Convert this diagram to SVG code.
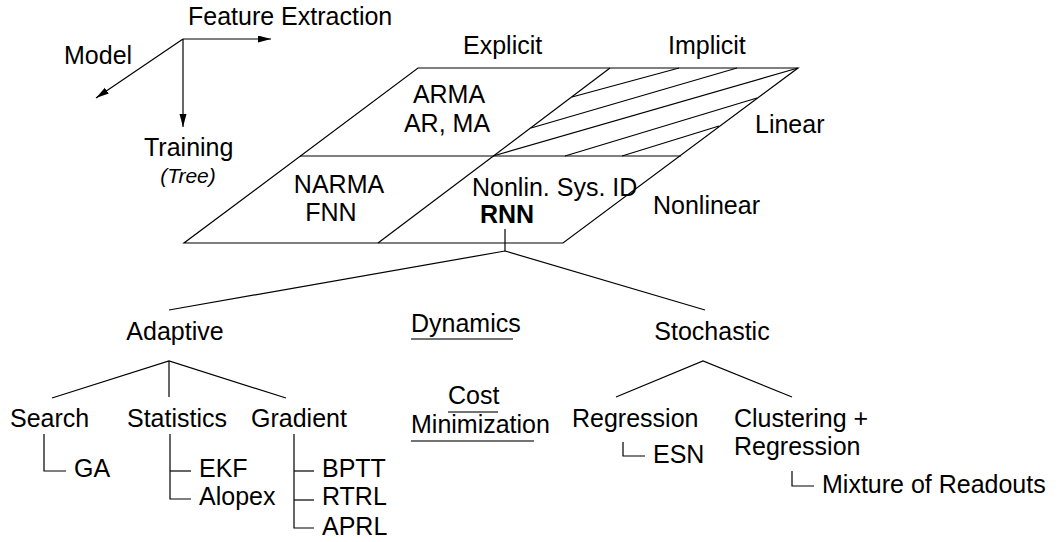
<svg xmlns="http://www.w3.org/2000/svg" width="1058" height="542" viewBox="0 0 1058 542">
  <style>
    text { font-family: "Liberation Sans", Arial, Helvetica, sans-serif; font-size: 25px; fill: #000; }
    .it { font-style: italic; font-size: 21px; }
    .b { font-weight: bold; }
    .ln { fill: none; stroke: #000; stroke-width: 1.2; }
    .ul { fill: none; stroke: #444; stroke-width: 1.3; }
  </style>
  <defs>
    <marker id="ah" markerUnits="userSpaceOnUse" markerWidth="14" markerHeight="8" refX="13" refY="3.5" orient="auto">
      <path d="M0,0 L13,3.5 L0,7 z" fill="#000"/>
    </marker>
  </defs>
  <rect width="1058" height="542" fill="#fff"/>

  <!-- axes -->
  <g id="axes">
    <line class="ln" x1="183" y1="39" x2="271" y2="39" marker-end="url(#ah)"/>
    <line class="ln" x1="183" y1="39" x2="183" y2="127" marker-end="url(#ah)"/>
    <line class="ln" x1="183" y1="39" x2="96" y2="98" marker-end="url(#ah)"/>
    <text x="188" y="25">Feature Extraction</text>
    <text x="64" y="64">Model</text>
    <text x="144" y="156">Training</text>
    <text class="it" x="188" y="183" text-anchor="middle">(Tree)</text>
  </g>

  <!-- model plane -->
  <g id="plane">
    <polygon class="ln" points="418,68 798,68 563,243 184,243"/>
    <line class="ln" x1="300" y1="156" x2="681" y2="156"/>
    <line class="ln" x1="610" y1="68" x2="378" y2="243"/>
    <!-- hatching of the implicit-linear quadrant -->
    <line class="ln" x1="572" y1="97" x2="679" y2="68"/>
    <line class="ln" x1="531" y1="128" x2="737" y2="68"/>
    <line class="ln" x1="493" y1="156" x2="798" y2="68"/>
    <line class="ln" x1="565" y1="156" x2="757" y2="98"/>
    <line class="ln" x1="622" y1="156" x2="719" y2="126"/>
    <text x="463" y="54">Explicit</text>
    <text x="668" y="54">Implicit</text>
    <text x="755" y="133">Linear</text>
    <text x="653" y="214">Nonlinear</text>
  </g>

  <g id="arma">
    <text x="449" y="103" text-anchor="middle">ARMA</text>
    <text x="447" y="132" text-anchor="middle">AR, MA</text>
  </g>
  <g id="narma">
    <text x="339" y="193" text-anchor="middle">NARMA</text>
    <text x="331" y="221" text-anchor="middle">FNN</text>
  </g>
  <g id="rnn">
    <text x="472" y="196">Nonlin. Sys. ID</text>
    <text class="b" x="480" y="223">RNN</text>
  </g>

  <g id="adaptive"><text x="175" y="340" text-anchor="middle">Adaptive</text></g>
  <g id="stochastic"><text x="712" y="340" text-anchor="middle">Stochastic</text></g>
  <g id="dynamics"><text x="411" y="332">Dynamics</text></g>
  <g id="cost">
    <text x="448" y="404">Cost</text>
    <text x="411" y="433">Minimization</text>
  </g>

  <g id="search"><text x="10" y="427">Search</text></g>
  <g id="statistics"><text x="127" y="427">Statistics</text></g>
  <g id="gradient"><text x="251" y="427">Gradient</text></g>
  <g id="ga"><text x="74" y="477">GA</text></g>
  <g id="ekf"><text x="199" y="477">EKF</text></g>
  <g id="alopex"><text x="199" y="505">Alopex</text></g>
  <g id="bptt"><text x="322" y="477">BPTT</text></g>
  <g id="rtrl"><text x="322" y="505">RTRL</text></g>
  <g id="aprl"><text x="322" y="535">APRL</text></g>

  <g id="regression"><text x="572" y="427">Regression</text></g>
  <g id="esn"><text x="653" y="463">ESN</text></g>
  <g id="clustering">
    <text x="734" y="427">Clustering +</text>
    <text x="734" y="455">Regression</text>
  </g>
  <g id="mixture"><text x="822" y="493">Mixture of Readouts</text></g>

  <!-- tree connectors -->
  <g id="connectors">
    <polyline class="ln" points="505,229 505,251"/>
    <polyline class="ln" points="169,310 505,251 705,310"/>
    <polyline class="ln" points="52,398 169,361 286,398"/>
    <line class="ln" x1="169" y1="361" x2="169" y2="397"/>
    <polyline class="ln" points="616,397 703,361 792,397"/>
    <!-- leaf brackets -->
    <polyline class="ln" points="44,434 44,471 66,471"/>
    <polyline class="ln" points="170,434 170,499 191,499"/>
    <line class="ln" x1="170" y1="471" x2="191" y2="471"/>
    <polyline class="ln" points="294,434 294,528 314,528"/>
    <line class="ln" x1="294" y1="471" x2="314" y2="471"/>
    <line class="ln" x1="294" y1="500" x2="314" y2="500"/>
    <polyline class="ln" points="623,442 623,456 645,456"/>
    <polyline class="ln" points="792,471 792,486 814,486"/>
  </g>

  <!-- underlines -->
  <g id="underlines">
    <line class="ul" x1="411" y1="339" x2="513" y2="339"/>
    <line class="ul" x1="448" y1="412" x2="498" y2="412"/>
    <line class="ul" x1="411" y1="441" x2="534" y2="441"/>
  </g>
</svg>
